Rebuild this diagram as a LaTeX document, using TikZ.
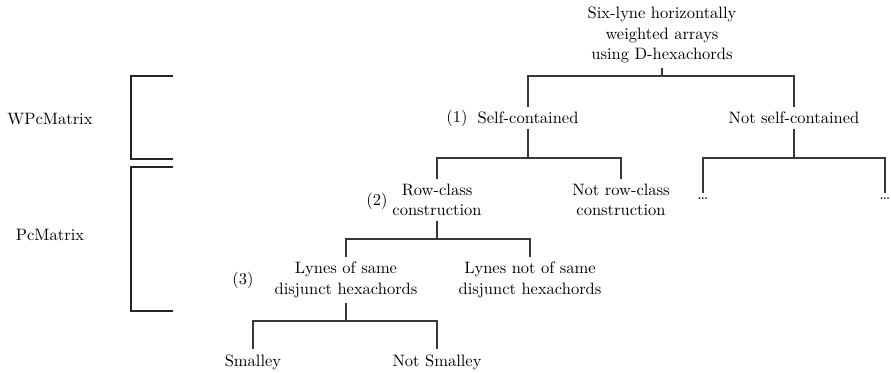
\documentclass[tikz,border=0pt]{standalone}
\usepackage{fontspec}
\begin{document}
\begin{tikzpicture}[x=0.606pt,y=-0.606pt,
  every node/.style={font=\fontsize{10}{12.4}\selectfont},
  item/.style={align=center, inner sep=3pt},
  tag/.style={inner sep=0pt},
  branch/.style={draw=black!78, line width=0.75pt},
  brace/.style={draw=black!85, line width=1.2pt}]
\useasboundingbox (0,0) rectangle (891,373);

% tree nodes
\node[item] (root) at (662,35) {Six-lyne horizontally\\weighted arrays\\using D-hexachords};
\node[item] (sc)   at (528,118) {Self-contained};
\node[item] (nsc)  at (794,118) {Not self-contained};
\node[item] (rc)   at (437,200) {Row-class\\construction};
\node[item] (nrc)  at (621,200) {Not row-class\\construction};
\node[item] (d1)   at (703,199) {\dots};
\node[item] (d2)   at (885,199) {\dots};
\node[item] (ls)   at (346,280) {Lynes of same\\disjunct hexachords};
\node[item] (lns)  at (530,280) {Lynes not of same\\disjunct hexachords};
\node[item] (sm)   at (253,362) {Smalley};
\node[item] (nsm)  at (437,362) {Not Smalley};

% level tags
\node[tag] (t1) at (457,118) {(1)};
\node[tag] (t2) at (377,201) {(2)};
\node[tag] (t3) at (243,280) {(3)};

% group labels
\node[tag] (wpc) at (50,119) {WPcMatrix};
\node[tag] (pc)  at (50,235) {PcMatrix};

% branching bars
\coordinate (b0) at (662,76);
\coordinate (b1) at (528,158);
\coordinate (b2) at (794,158);
\coordinate (b3) at (437,239);
\coordinate (b4) at (346,321);

\draw[branch] (root.south) -- (b0);
\draw[branch] (sc.north) |- (b0) -| (nsc.north);
\draw[branch] (sc.south) -- (b1);
\draw[branch] (rc.north) |- (b1) -| (nrc.north);
\draw[branch] (nsc.south) -- (b2);
\draw[branch] (d1.north) |- (b2) -| (d2.north);
\draw[branch] (rc.south) -- (b3);
\draw[branch] (ls.north) |- (b3) -| (lns.north);
\draw[branch] (ls.south) -- (b4);
\draw[branch] (sm.north) |- (b4) -| (nsm.north);

% brackets for the two groups
\coordinate (u1) at (173,76);
\coordinate (u2) at (173,159);
\coordinate (l1) at (173,167);
\coordinate (l2) at (173,311);
\draw[brace] (u1) -- (131,76) -- (131,159) -- (u2);
\draw[brace] (l1) -- (131,167) -- (131,311) -- (l2);
\end{tikzpicture}
\end{document}
